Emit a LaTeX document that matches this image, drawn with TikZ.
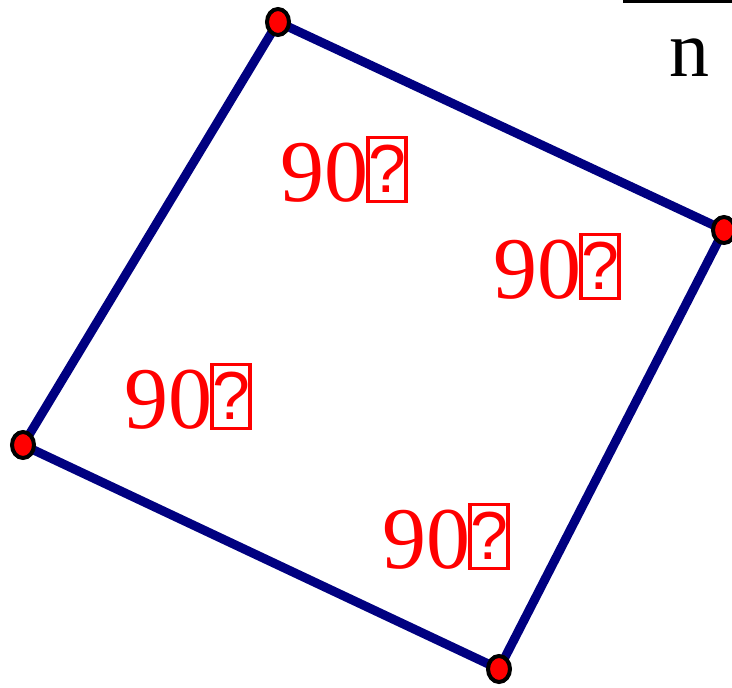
\documentclass[tikz,border=0pt]{standalone}
\usepackage{fontspec}
\setmainfont{Liberation Serif}
\newfontfamily\glyphfont{Liberation Sans}
\usepackage{xcolor}
\usetikzlibrary{shapes.geometric, backgrounds}

\definecolor{sideblue}{RGB}{0,0,128}

\begin{document}
\begin{tikzpicture}[
        x=1pt, y=-1pt,
        vertex/.style={ellipse, draw=black, fill=red, line width=4pt,
          minimum width=22pt, minimum height=26pt, inner sep=0pt},
        side/.style={draw=sideblue, line width=9pt, line join=round},
        anglelabel/.style={text=red, font=\fontsize{88}{88}\selectfont,
          anchor=base west, inner sep=0pt},
        qbox/.style={draw=red, text=red, line width=3.5pt,
          minimum width=37pt, minimum height=64pt, inner sep=0pt,
          font=\glyphfont\fontsize{68}{68}\selectfont, anchor=south west},
      ]
      \useasboundingbox (0,0) rectangle (732,688);

      \node[vertex] (top)    at (278,22)  {};
      \node[vertex] (right)  at (724,230) {};
      \node[vertex] (bottom) at (499,669) {};
      \node[vertex] (left)   at (23,445)  {};

      \begin{pgfonlayer}{background}
        \draw[side] (top.center) -- (right.center) -- (bottom.center)
          -- (left.center) -- cycle;
      \end{pgfonlayer}

      % angle labels: "90" and the box glyph after it
      \node[anglelabel] (a1) at (280,201) {90};
      \node[anglelabel] (a2) at (493,298) {90};
      \node[anglelabel] (a3) at (124,428) {90};
      \node[anglelabel] (a4) at (382,568) {90};
      \foreach \a in {a1,a2,a3,a4}
        \node[qbox] (\a-q) at ([xshift=-2pt,yshift=-2pt]\a.base east) {?};

      \node[font=\fontsize{80}{80}\selectfont, anchor=base west,
        inner sep=0pt] (n) at (669,76) {n};
      \coordinate (bar-l) at (623,1.5);
      \coordinate (bar-r) at (732,1.5);
      \draw[line width=3pt] (bar-l) -- (bar-r);

    \end{tikzpicture}
\end{document}
